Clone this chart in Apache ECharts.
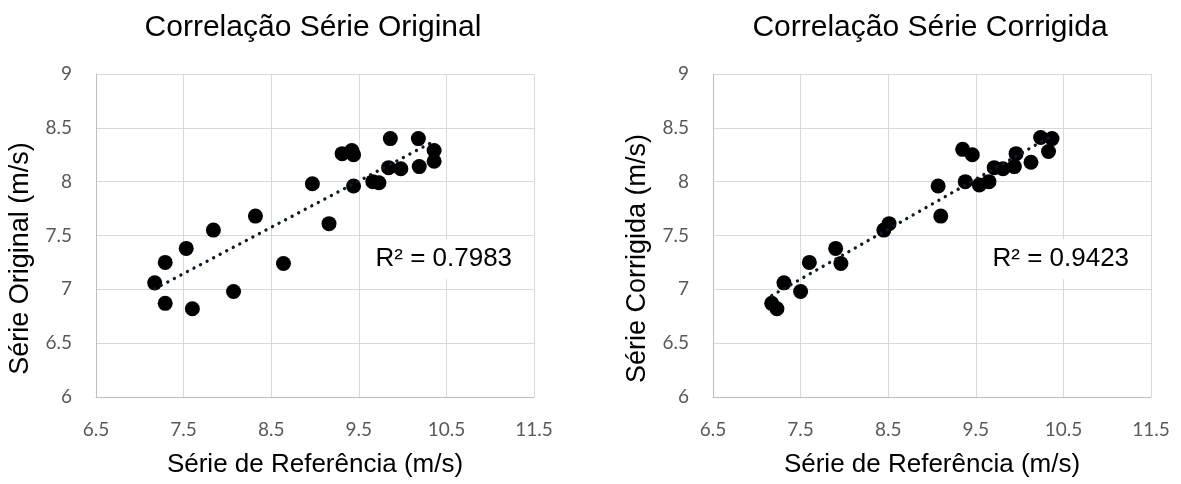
<!DOCTYPE html>
<html>
<head>
<meta charset="utf-8">
<script src="https://cdn.jsdelivr.net/npm/echarts@6/dist/echarts.min.js"></script>
<style>
  html, body { margin: 0; padding: 0; background: #fff; }
  #main { width: 1181px; height: 484px; }
</style>
</head>
<body>
<div id="main"></div>
<script>
// dados
var refOriginal = [7.17, 7.29, 7.29, 7.53, 7.60, 7.84, 8.07, 8.32, 8.64, 8.97, 9.16, 9.31,
  9.42, 9.44, 9.44, 9.66, 9.73, 9.84, 9.86, 9.98, 10.18, 10.19, 10.36, 10.36];
var serieOriginal = [7.06, 7.25, 6.87, 7.38, 6.82, 7.55, 6.98, 7.68, 7.24, 7.98, 7.61, 8.26,
  8.29, 8.25, 7.96, 8.00, 7.99, 8.13, 8.40, 8.12, 8.40, 8.14, 8.29, 8.19];

var refCorrigida = [7.17, 7.23, 7.31, 7.50, 7.60, 7.90, 7.96, 8.45, 8.51, 9.07, 9.10, 9.35,
  9.46, 9.38, 9.54, 9.65, 9.71, 9.81, 9.94, 9.96, 10.13, 10.24, 10.37, 10.33];
var serieCorrigida = [6.87, 6.82, 7.06, 6.98, 7.25, 7.38, 7.24, 7.55, 7.61, 7.96, 7.68, 8.30,
  8.25, 8.00, 7.97, 8.00, 8.13, 8.12, 8.14, 8.26, 8.18, 8.41, 8.40, 8.28];

var titulos = ['Correlação Série Original', 'Correlação Série Corrigida'];
var nomesY = ['Série Original (m/s)', 'Série Corrigida (m/s)'];
var nomeX = 'Série de Referência (m/s)';
var r2 = ['R² = 0.7983', 'R² = 0.9423'];

// linha de tendência (mínimos quadrados)
function tendencia(xs, ys) {
  var n = xs.length, sx = 0, sy = 0, sxx = 0, sxy = 0;
  for (var i = 0; i < n; i++) {
    sx += xs[i]; sy += ys[i]; sxx += xs[i] * xs[i]; sxy += xs[i] * ys[i];
  }
  var b = (n * sxy - sx * sy) / (n * sxx - sx * sx);
  var a = (sy - b * sx) / n;
  var x0 = Math.min.apply(null, xs), x1 = Math.max.apply(null, xs);
  return [[x0, a + b * x0], [x1, a + b * x1]];
}

function pares(xs, ys) {
  return xs.map(function (x, i) { return [x, ys[i]]; });
}

var lefts = [96, 713];
var fonte = 'Liberation Sans, Arial, sans-serif';
var fonteTick = 'Lato, Open Sans, sans-serif';

var grids = [], xAxes = [], yAxes = [], series = [], titles = [];
var dados = [[refOriginal, serieOriginal], [refCorrigida, serieCorrigida]];

for (var k = 0; k < 2; k++) {
  grids.push({ left: lefts[k], top: 74, width: 438, height: 323 });
  titles.push({
    text: titulos[k],
    left: lefts[k] + 212,
    top: 8,
    textAlign: 'center',
    textStyle: { fontFamily: fonte, fontSize: 30, fontWeight: 'normal', color: '#000' }
  });
  xAxes.push({
    gridIndex: k, type: 'value', min: 6.5, max: 11.5, interval: 1,
    name: nomeX, nameLocation: 'middle', nameGap: 55,
    nameTextStyle: { fontFamily: fonte, fontSize: 26, color: '#000' },
    axisLine: { show: true, lineStyle: { color: '#bfbfbf' } },
    axisTick: { show: false },
    axisLabel: { fontFamily: fonteTick, fontSize: 19, color: '#595959', margin: 23 },
    splitLine: { lineStyle: { color: '#d9d9d9', width: 1 } }
  });
  yAxes.push({
    gridIndex: k, type: 'value', min: 6, max: 9, interval: 0.5,
    name: nomesY[k], nameLocation: 'middle', nameGap: 62,
    // padding à direita desloca o título para baixo
    nameTextStyle: { fontFamily: fonte, fontSize: 27, color: '#000', padding: [0, 46, 0, 0] },
    axisLine: { show: true, lineStyle: { color: '#bfbfbf' } },
    axisTick: { show: false },
    axisLabel: { fontFamily: fonteTick, fontSize: 19, color: '#595959', margin: 24 },
    splitLine: { lineStyle: { color: '#d9d9d9', width: 1 } }
  });
  series.push({
    type: 'scatter', xAxisIndex: k, yAxisIndex: k,
    data: pares(dados[k][0], dados[k][1]),
    symbolSize: 15,
    itemStyle: { color: '#000', opacity: 1 },
    z: 3
  });
  series.push({
    type: 'line', xAxisIndex: k, yAxisIndex: k,
    data: tendencia(dados[k][0], dados[k][1]),
    symbol: 'none',
    lineStyle: { color: '#0d1a2a', width: 3.3, type: [0.1, 7.3], cap: 'round' },
    z: 4,
    markPoint: {
      symbol: 'rect', symbolSize: 1,
      itemStyle: { color: 'transparent' },
      data: [{
        coord: [10.47, 7.28],
        label: {
          show: true, formatter: r2[k], position: 'inside',
          fontFamily: fonte, fontSize: 26, color: '#000',
          backgroundColor: '#fff', padding: [7, 6]
        }
      }]
    }
  });
}

var chart = echarts.init(document.getElementById('main'), null, { renderer: 'canvas' });
chart.setOption({
  animation: false,
  backgroundColor: '#fff',
  title: titles,
  grid: grids,
  xAxis: xAxes,
  yAxis: yAxes,
  series: series
});
</script>
</body>
</html>
